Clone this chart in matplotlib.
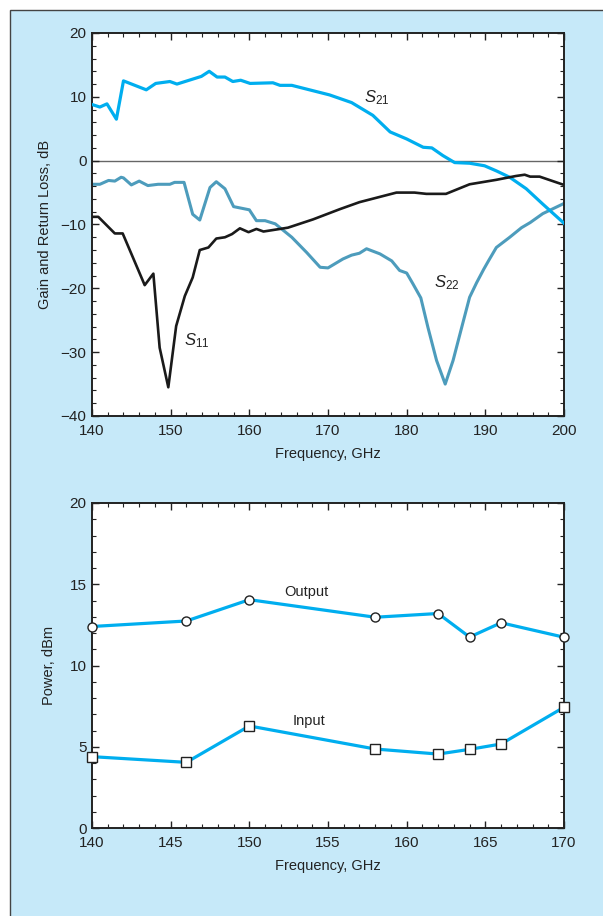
import matplotlib
matplotlib.use("Agg")
import matplotlib.pyplot as plt
from matplotlib.patches import Rectangle
from matplotlib.ticker import MultipleLocator

plt.rcParams['font.family'] = ['Liberation Sans', 'DejaVu Sans']
plt.rcParams['font.size'] = 10
plt.rcParams['mathtext.fontset'] = 'custom'
plt.rcParams['mathtext.rm'] = 'Liberation Sans'
plt.rcParams['mathtext.it'] = 'Liberation Sans:italic'

# top panel: S-parameters vs frequency
s21_f = [140, 141, 141.9, 143.1, 144, 146.9, 148.1, 149.9, 150.8, 153.9, 154.9, 155.9,
         156.9, 157.9, 158.9, 160.1, 163, 163.9, 165.4, 170.2, 173, 175.7, 177.9, 180,
         182.1, 183.2, 184.6, 186.1, 188, 189.9, 191.4, 193.1, 195.2, 197.3, 200]
s21_db = [8.8, 8.4, 8.9, 6.5, 12.5, 11.1, 12.1, 12.4, 12.0, 13.2, 14.0, 13.1,
          13.1, 12.4, 12.6, 12.1, 12.2, 11.8, 11.8, 10.3, 9.1, 7.1, 4.5, 3.4,
          2.1, 2.0, 0.8, -0.3, -0.4, -0.8, -1.6, -2.6, -4.4, -6.8, -9.8]

s11_f = [140, 140.8, 142.9, 143.9, 146.7, 147.8, 148.6, 149.7, 150.7, 151.8, 152.8,
         153.7, 154.8, 155.8, 156.9, 157.8, 158.8, 159.9, 160.9, 161.8, 164.9, 165.4,
         168.1, 171.5, 174, 178.7, 181, 182.5, 185, 188, 191.4, 193.9, 195, 195.7,
         196.9, 200]
s11_db = [-8.8, -8.8, -11.4, -11.4, -19.5, -17.7, -29.3, -35.5, -25.9, -21.2, -18.3,
          -14.0, -13.6, -12.2, -12.0, -11.5, -10.6, -11.2, -10.7, -11.1, -10.5, -10.3,
          -9.2, -7.6, -6.5, -5.0, -5.0, -5.2, -5.2, -3.7, -3.0, -2.4, -2.2, -2.5,
          -2.5, -3.8]

s22_f = [140, 141, 142.1, 142.9, 143.7, 144, 145, 146, 147.1, 148.4, 149.9, 150.5,
         151.7, 152.8, 153.7, 155, 155.8, 156.9, 158, 160, 160.9, 162, 163.3, 165.4,
         167.3, 169, 170, 171.9, 173, 174, 174.9, 176.6, 178.1, 179.1, 180, 180.8,
         181.8, 182.7, 183.8, 184.9, 185.9, 187, 188, 188.9, 189.8, 190.4, 191.4,
         193.1, 194.6, 195.7, 197.3, 200]
s22_db = [-3.7, -3.7, -3.1, -3.2, -2.6, -2.7, -3.8, -3.2, -3.9, -3.7, -3.7, -3.4,
          -3.4, -8.4, -9.3, -4.2, -3.3, -4.4, -7.2, -7.7, -9.4, -9.4, -9.9, -12.0,
          -14.4, -16.7, -16.8, -15.4, -14.8, -14.5, -13.8, -14.6, -15.7, -17.2, -17.6, -19.3,
          -21.5, -26.1, -31.3, -35.0, -31.3, -26.1, -21.4, -19.1, -17.0, -15.7, -13.6,
          -12.0, -10.5, -9.7, -8.3, -6.7]

# bottom panel: power vs frequency
pwr_f = [140, 146, 150, 158, 162, 164, 166, 170]
out_dbm = [12.4, 12.74, 14.05, 12.97, 13.2, 11.75, 12.63, 11.74]
in_dbm = [4.39, 4.04, 6.28, 4.86, 4.55, 4.84, 5.17, 7.43]

bright = '#00AEEF'
steel = '#4D9CBC'
panel = '#C6E9F9'
ink = '#222222'

fig = plt.figure(figsize=(6.03, 9.16), dpi=100)
fig.patch.set_facecolor('white')
fig.patches.append(Rectangle((10 / 603, -0.1), 1.2, (916 - 10) / 916 + 0.1,
                             transform=fig.transFigure, facecolor=panel,
                             edgecolor='#444444', linewidth=1.0, zorder=-10))

W, H = 603.0, 916.0
ax1 = fig.add_axes([92 / W, 1 - 416 / H, (564 - 92) / W, (416 - 33) / H])
ax2 = fig.add_axes([92 / W, 1 - 828 / H, (564 - 92) / W, (828 - 503) / H])


def style(ax):
    ax.set_facecolor('white')
    for sp in ax.spines.values():
        sp.set_linewidth(1.4)
        sp.set_color(ink)
    ax.tick_params(which='both', direction='in', top=True, right=True,
                   colors=ink, labelcolor=ink, labelsize=11)
    ax.tick_params(which='major', length=5, width=1.0)
    ax.tick_params(which='minor', length=3, width=0.8)
    ax.tick_params(axis='x', which='major', pad=6)
    ax.tick_params(axis='y', which='major', pad=4)


style(ax1)
ax1.axhline(0, color='#666666', lw=1.0, zorder=1)
ax1.plot(s21_f, s21_db, color=bright, lw=2.3, zorder=3)
ax1.plot(s22_f, s22_db, color=steel, lw=2.2, zorder=2)
ax1.plot(s11_f, s11_db, color='#1A1A1A', lw=1.9, zorder=4)
ax1.set_xlim(140, 200)
ax1.set_ylim(-40, 20)
ax1.xaxis.set_major_locator(MultipleLocator(10))
ax1.xaxis.set_minor_locator(MultipleLocator(2))
ax1.yaxis.set_major_locator(MultipleLocator(10))
ax1.yaxis.set_minor_locator(MultipleLocator(2))
ax1.set_xlabel('Frequency, GHz', fontsize=10.5, color=ink, labelpad=6)
ax1.set_ylabel('Gain and Return Loss, dB', fontsize=10.5, color=ink, labelpad=6)
ax1.text(176.2, 9.9, r'$\mathit{S}_{21}$', fontsize=12, ha='center', va='center', color=ink)
ax1.text(153.3, -28.2, r'$\mathit{S}_{11}$', fontsize=12, ha='center', va='center', color=ink)
ax1.text(185.1, -19.1, r'$\mathit{S}_{22}$', fontsize=12, ha='center', va='center', color=ink)

style(ax2)
ax2.plot(pwr_f, out_dbm, color=bright, lw=2.3, marker='o', ms=6.5,
         mfc='white', mec=ink, mew=1.0, zorder=3, clip_on=False)
ax2.plot(pwr_f, in_dbm, color=bright, lw=2.3, marker='s', ms=6.5,
         mfc='white', mec=ink, mew=1.0, zorder=3, clip_on=False)
ax2.set_xlim(140, 170)
ax2.set_ylim(0, 20)
ax2.xaxis.set_major_locator(MultipleLocator(5))
ax2.xaxis.set_minor_locator(MultipleLocator(1))
ax2.yaxis.set_major_locator(MultipleLocator(5))
ax2.yaxis.set_minor_locator(MultipleLocator(1))
ax2.set_xlabel('Frequency, GHz', fontsize=10.5, color=ink, labelpad=6)
ax2.set_ylabel('Power, dBm', fontsize=10.5, color=ink, labelpad=10)
ax2.text(153.6, 14.5, 'Output', fontsize=10.5, ha='center', va='center', color=ink)
ax2.text(153.8, 6.6, 'Input', fontsize=10.5, ha='center', va='center', color=ink)

fig.savefig('out.png', dpi=100, facecolor=fig.get_facecolor())
